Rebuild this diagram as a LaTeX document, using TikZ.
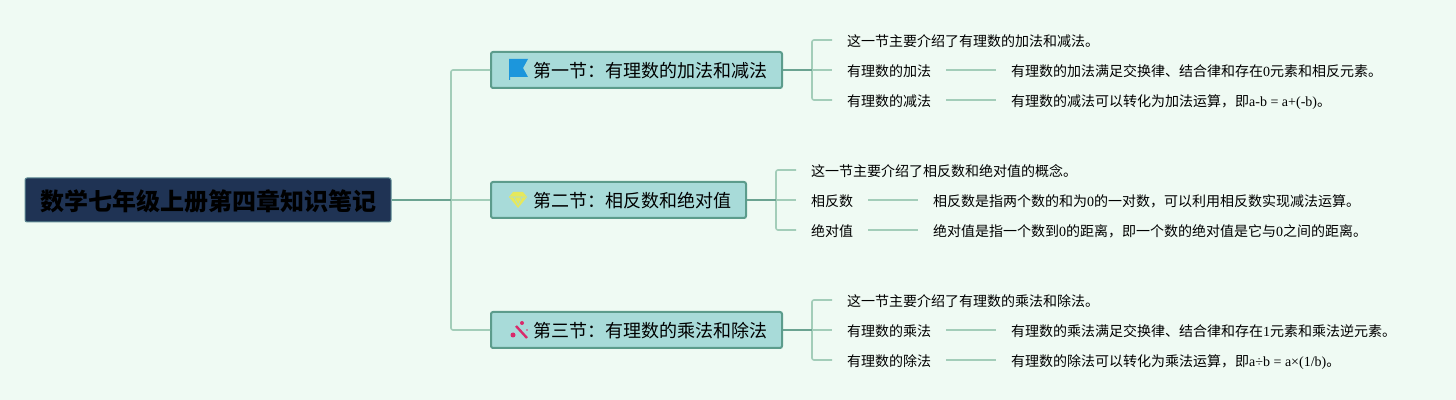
\documentclass[tikz,border=0pt]{standalone}
\usepackage{fontspec}
\setmainfont{Noto Sans CJK SC}
\newfontfamily\latinpart{Liberation Serif}
\newcommand{\lat}[1]{{\latinpart #1}}
\definecolor{paper}{HTML}{EFFAF3}
\definecolor{rootfill}{HTML}{1F3354}
\definecolor{rootedge}{HTML}{5F8A94}
\definecolor{secfill}{HTML}{A8DBD9}
\definecolor{secedge}{HTML}{5C9C8C}
\definecolor{thick}{HTML}{6BA391}
\definecolor{thin}{HTML}{A3CDB9}
\definecolor{flagblue}{HTML}{1C96DC}
\definecolor{gemyellow}{HTML}{E6E85C}
\definecolor{wandpink}{HTML}{D92B6B}
\tikzset{
	rootbox/.style={draw=rootedge, fill=rootfill, line width=0.5pt, rounded corners=1pt, minimum width=183pt, minimum height=22pt, inner sep=0pt, text height=11.6pt, text depth=1.4pt, font=\fontsize{12}{12}\selectfont\bfseries},
	secbox/.style={draw=secedge, fill=secfill, line width=1pt, rounded corners=1pt, minimum height=18pt, inner sep=0pt},
	sectitle/.style={anchor=west, inner sep=0pt, font=\fontsize{9}{9}\selectfont},
	leaf/.style={anchor=west, inner xsep=7.4pt, inner ysep=1pt, text height=7pt, text depth=0.85pt, font=\fontsize{7}{7}\selectfont},
	thickline/.style={draw=thick, line width=1pt},
	thinline/.style={draw=thin, line width=0.8pt, rounded corners=1pt},
}
\begin{document}
\begin{tikzpicture}[x=0.5pt, y=-0.5pt]
		\fill[paper] (0, 0) rectangle (1456, 400);
		\useasboundingbox (0, 0) rectangle (1456, 400);
		
		%%%%% boxes %%%%%
		\node[rootbox] (root) at (208, 200) {数学七年级上册第四章知识笔记};
		\node[secbox, minimum width=145.5pt] (sec1) at (636.5, 70) {};
		\node[secbox, minimum width=127.5pt] (sec2) at (618.5, 200) {};
		\node[secbox, minimum width=145.5pt] (sec3) at (636.5, 330) {};
		\node[sectitle] (title1) at (533, 71) {第一节：有理数的加法和减法};
		\node[sectitle] (title2) at (533, 201) {第二节：相反数和绝对值};
		\node[sectitle] (title3) at (533, 331) {第三节：有理数的乘法和除法};
		
		%%%%% first section %%%%%
		\node[leaf] (a0) at (832, 40) {这一节主要介绍了有理数的加法和减法。};
		\node[leaf] (a1) at (832, 70) {有理数的加法};
		\node[leaf] (a2) at (832, 100) {有理数的减法};
		\node[leaf] (a1t) at (996, 70) {有理数的加法满足交换律、结合律和存在\lat{0}元素和相反元素。};
		\node[leaf] (a2t) at (996, 100) {有理数的减法可以转化为加法运算，即\lat{a-b = a+(-b)}。};
		
		%%%%% second section %%%%%
		\node[leaf] (b0) at (796, 170) {这一节主要介绍了相反数和绝对值的概念。};
		\node[leaf] (b1) at (796, 200) {相反数};
		\node[leaf] (b2) at (796, 230) {绝对值};
		\node[leaf] (b1t) at (918, 200) {相反数是指两个数的和为\lat{0}的一对数，可以利用相反数实现减法运算。};
		\node[leaf] (b2t) at (918, 230) {绝对值是指一个数到\lat{0}的距离，即一个数的绝对值是它与\lat{0}之间的距离。};
		
		%%%%% third section %%%%%
		\node[leaf] (c0) at (832, 300) {这一节主要介绍了有理数的乘法和除法。};
		\node[leaf] (c1) at (832, 330) {有理数的乘法};
		\node[leaf] (c2) at (832, 360) {有理数的除法};
		\node[leaf] (c1t) at (996, 330) {有理数的乘法满足交换律、结合律和存在\lat{1}元素和乘法逆元素。};
		\node[leaf] (c2t) at (996, 360) {有理数的除法可以转化为乘法运算，即\lat{a÷b = a×(1/b)}。};
		
		%%%%% connectors %%%%%
		\coordinate (trunk) at (451, 200);
		\coordinate (fork1) at (812, 70);
		\coordinate (fork2) at (776, 200);
		\coordinate (fork3) at (812, 330);
		
		\draw[thinline] (sec1.west) -| (trunk);
		\draw[thinline] (sec3.west) -| (trunk);
		\draw[thinline] (trunk) -- (sec2.west);
		\draw[thickline] (root.east) -- (trunk);
		
		\draw[thinline] (fork1) |- (a0.west);
		\draw[thinline] (fork1) |- (a2.west);
		\draw[thinline] (fork1) -- (a1.west);
		\draw[thickline] (sec1.east) -- (fork1);
		\draw[thinline] (a1.east) -- (a1t.west);
		\draw[thinline] (a2.east) -- (a2t.west);
		
		\draw[thinline] (fork2) |- (b0.west);
		\draw[thinline] (fork2) |- (b2.west);
		\draw[thinline] (fork2) -- (b1.west);
		\draw[thickline] (sec2.east) -- (fork2);
		\draw[thinline] (b1.east) -- (b1t.west);
		\draw[thinline] (b2.east) -- (b2t.west);
		
		\draw[thinline] (fork3) |- (c0.west);
		\draw[thinline] (fork3) |- (c2.west);
		\draw[thinline] (fork3) -- (c1.west);
		\draw[thickline] (sec3.east) -- (fork3);
		\draw[thinline] (c1.east) -- (c1t.west);
		\draw[thinline] (c2.east) -- (c2t.west);
		
		%%%%% icons %%%%%
		\fill[flagblue] (509, 59) -- (528, 59) -- (523, 68) -- (528, 77) -- (510, 77) -- (510, 80) -- (509, 80) -- cycle;
		\fill[gemyellow] (513, 192) -- (523, 192) -- (527, 197) -- (518, 208) -- (509, 197) -- cycle;
		\draw[secfill, line width=0.3pt] (510, 197) -- (526, 197) (514, 197) -- (518, 205) -- (522, 197);
		\draw[wandpink, line width=1.2pt] (516, 326) -- (527, 338);
		\fill[wandpink] (513, 335) circle (2.5);
		\fill[wandpink] (522, 323) circle (2);
		\fill[wandpink] (527, 330) circle (0.8);
	\end{tikzpicture}
\end{document}
